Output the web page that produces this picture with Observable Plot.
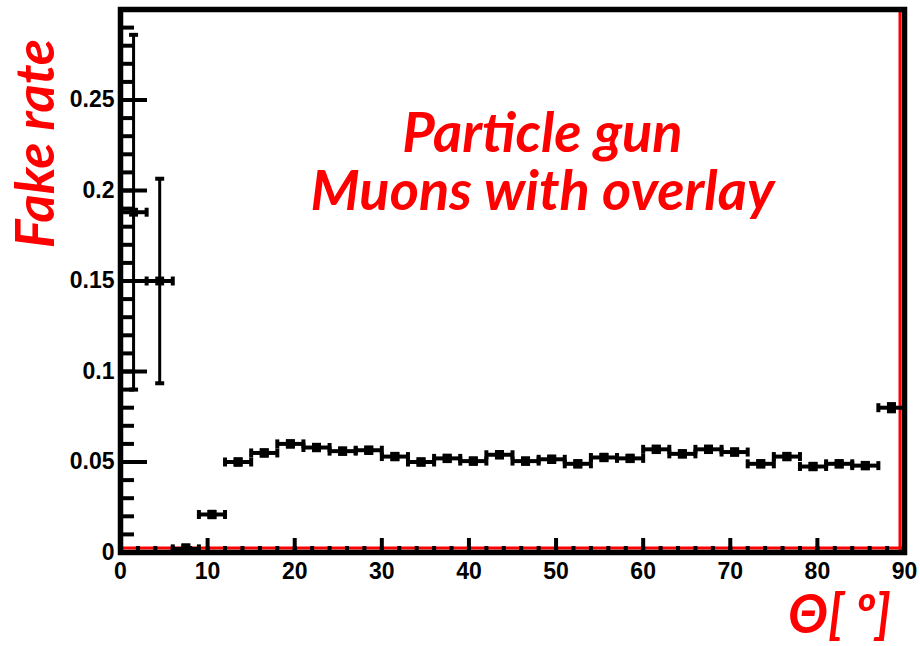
<!DOCTYPE html>
<html>
<head>
<meta charset="utf-8">
<script src="https://cdn.jsdelivr.net/npm/d3@7"></script>
<script src="https://cdn.jsdelivr.net/npm/@observablehq/plot@0.6"></script>
<style>
  html, body { margin: 0; padding: 0; background: #fff; }
</style>
</head>
<body>
<div id="chart"></div>
<script>
// ---- data ----
const binLow  = [0, 3, 6, 9, 12, 15, 18, 21, 24, 27, 30, 33, 36, 39, 42, 45, 48, 51, 54, 57, 60, 63, 66, 69, 72, 75, 78, 81, 84, 87];
const binHigh = [3, 6, 9, 12, 15, 18, 21, 24, 27, 30, 33, 36, 39, 42, 45, 48, 51, 54, 57, 60, 63, 66, 69, 72, 75, 78, 81, 84, 87, 90];
const fakeRate = [0.188, 0.150, 0.002, 0.021, 0.050, 0.055, 0.060, 0.058, 0.056, 0.0565,
                  0.053, 0.050, 0.052, 0.0505, 0.054, 0.0505, 0.0515, 0.049, 0.0525, 0.052,
                  0.057, 0.0545, 0.057, 0.0555, 0.049, 0.053, 0.0475, 0.049, 0.048, 0.080];
const rateError = [0.098, 0.0565, 0.002, 0.0015, 0.0015, 0.0015, 0.0015, 0.0015, 0.0015, 0.0015,
                   0.0015, 0.0015, 0.0015, 0.0015, 0.0015, 0.0015, 0.0015, 0.0015, 0.0015, 0.0015,
                   0.0015, 0.0015, 0.0015, 0.0015, 0.0015, 0.0015, 0.0015, 0.0015, 0.0015, 0.002];

const xMajorTicks = [0, 10, 20, 30, 40, 50, 60, 70, 80, 90];
const xMinorTicks = [0, 2, 4, 6, 8, 10, 12, 14, 16, 18, 20, 22, 24, 26, 28, 30, 32, 34, 36, 38, 40,
                     42, 44, 46, 48, 50, 52, 54, 56, 58, 60, 62, 64, 66, 68, 70, 72, 74, 76, 78, 80,
                     82, 84, 86, 88, 90];
const yMajorTicks = [0, 0.05, 0.1, 0.15, 0.2, 0.25];
const yTickLabels = ["0", "0.05", "0.1", "0.15", "0.2", "0.25"];
const yMinorTicks = [0, 0.01, 0.02, 0.03, 0.04, 0.05, 0.06, 0.07, 0.08, 0.09, 0.1, 0.11, 0.12, 0.13, 0.14,
                     0.15, 0.16, 0.17, 0.18, 0.19, 0.2, 0.21, 0.22, 0.23, 0.24, 0.25, 0.26, 0.27, 0.28, 0.29];

const titleLines = ["Particle gun", "Muons with overlay"];
const yLabel = "Fake rate";
const xLabel = "Θ[ º]";

// ---- build table ----
const data = binLow.map((lo, i) => ({
  lo, hi: binHigh[i], mid: (lo + binHigh[i]) / 2, v: fakeRate[i], e: rateError[i]
}));

// custom symbols for error-bar end caps
const vCap = { draw(ctx, size) { const h = Math.sqrt(size / Math.PI); ctx.moveTo(0, -h); ctx.lineTo(0, h); } };
const hCap = { draw(ctx, size) { const w = Math.sqrt(size / Math.PI); ctx.moveTo(-w, 0); ctx.lineTo(w, 0); } };

const RED = "#ff0000";
const redFont = "Lato, 'Open Sans', sans-serif";
const tickFont = "'Liberation Sans', Arial, sans-serif";
const LW = 4;

const chart = Plot.plot({
  width: 920,
  height: 646,
  marginLeft: 120,
  marginRight: 16,
  marginTop: 9,
  marginBottom: 94,
  style: { background: "#fff", fontFamily: tickFont, fontSize: "23px", fontWeight: "bold", color: "#000" },
  x: { domain: [0, 90] },
  y: { domain: [0, 0.3] },
  marks: [
    // red inner lines along bottom and right
    Plot.ruleY([0], { stroke: RED, strokeWidth: 3, dy: -4.5 }),
    Plot.ruleX([90], { stroke: RED, strokeWidth: 3, dx: -4.5 }),

    // inward ticks
    Plot.axisY(yMinorTicks, { anchor: "right", frameAnchor: "left", tickSize: 13, text: null, label: null, strokeWidth: LW }),
    Plot.axisY(yMajorTicks, { anchor: "right", frameAnchor: "left", tickSize: 26, text: null, label: null, strokeWidth: LW }),
    Plot.axisX(xMinorTicks, { anchor: "top", frameAnchor: "bottom", tickSize: 7, text: null, label: null, strokeWidth: LW }),
    Plot.axisX(xMajorTicks, { anchor: "top", frameAnchor: "bottom", tickSize: 15, text: null, label: null, strokeWidth: LW }),

    // tick labels
    Plot.axisY(yMajorTicks, { anchor: "left", tickSize: 0, tickPadding: 6, label: null,
      tickFormat: d => yTickLabels[yMajorTicks.indexOf(d)], fontSize: 23, fontWeight: "bold", fontFamily: tickFont }),
    Plot.axisX(xMajorTicks, { anchor: "bottom", tickSize: 0, tickPadding: 10, label: null,
      tickFormat: d => String(d), fontSize: 23, fontWeight: "bold", fontFamily: tickFont }),

    // data: horizontal (bin width) error bars with end caps
    Plot.ruleY(data, { y: "v", x1: "lo", x2: "hi", stroke: "#000", strokeWidth: LW }),
    Plot.dot(data, { x: "lo", y: "v", symbol: vCap, r: 4.5, fill: "none", stroke: "#000", strokeWidth: LW }),
    Plot.dot(data, { x: "hi", y: "v", symbol: vCap, r: 4.5, fill: "none", stroke: "#000", strokeWidth: LW }),
    // vertical error bars with caps
    Plot.ruleX(data, { x: "mid", y1: d => d.v - d.e, y2: d => d.v + d.e, stroke: "#000", strokeWidth: 3 }),
    Plot.dot(data, { x: "mid", y: d => d.v + d.e, symbol: hCap, r: 4.5, fill: "none", stroke: "#000", strokeWidth: LW }),
    Plot.dot(data, { x: "mid", y: d => d.v - d.e, symbol: hCap, r: 4.5, fill: "none", stroke: "#000", strokeWidth: LW }),
    // square markers
    Plot.dot(data, { x: "mid", y: "v", symbol: "square", r: 5, fill: "#000", stroke: "none" }),

    // frame
    Plot.frame({ stroke: "#000", strokeWidth: 5.5 }),

    // annotations
    Plot.text([titleLines.join("\n")], { text: d => d, frameAnchor: "top", dx: 30, dy: 153, fill: RED,
      fontFamily: redFont, fontWeight: "bold", fontStyle: "italic", fontSize: 56, lineHeight: 1.036, lineAnchor: "middle" }),
    Plot.text([yLabel], { text: d => d, frameAnchor: "top-left", dx: -84, dy: 134, rotate: -90, textAnchor: "middle",
      fill: RED, fontFamily: redFont, fontWeight: "bold", fontStyle: "italic", fontSize: 54, lineAnchor: "middle" }),
    Plot.text([xLabel], { text: d => d, frameAnchor: "bottom-right", dx: -65, dy: 64, textAnchor: "middle",
      fill: RED, fontFamily: redFont, fontWeight: "bold", fontStyle: "italic", fontSize: 53, lineAnchor: "middle" })
  ]
});

document.getElementById("chart").appendChild(chart);
</script>
</body>
</html>
